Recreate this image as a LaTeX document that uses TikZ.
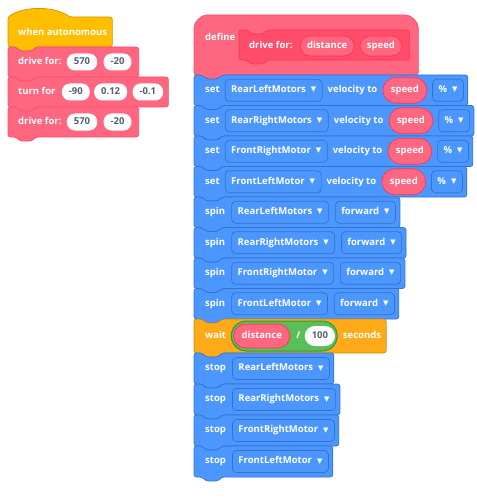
\documentclass[tikz,border=0pt]{standalone}
\usepackage{fontspec}
\setmainfont{Open Sans}
\newfontfamily\symf{DejaVu Sans}
\usetikzlibrary{positioning,calc,fit}
\pgfdeclarelayer{blocks}
\pgfdeclarelayer{inputs}
\pgfsetlayers{blocks,inputs,main}

\definecolor{pinkblock}{HTML}{FF6680}
\definecolor{pinkedge}{HTML}{FF4D6A}
\definecolor{pinkdark}{HTML}{FF3355}
\definecolor{blueblock}{HTML}{4C97FF}
\definecolor{blueedge}{HTML}{3373CC}
\definecolor{hatyellow}{HTML}{FFBF00}
\definecolor{hatedge}{HTML}{CC9900}
\definecolor{waitorange}{HTML}{FFAB19}
\definecolor{waitedge}{HTML}{CF8B17}
\definecolor{opgreen}{HTML}{59C059}
\definecolor{opedge}{HTML}{389438}
\definecolor{slottext}{HTML}{575E75}

\newcommand{\menuarrow}{\hspace{5pt}\raisebox{0.6pt}{\symf\fontsize{7}{7}\selectfont ▼}}

% stack block: style, left, top, bottom, last node, right padding
\newcommand{\cmdbody}[6]{%
  \path[#1] let \p1=(#5.east) in
    (#2,{(#3+#4)/2}) -- (#2,#3) -- ({#2+8},#3) -- ({#2+12},{#3-4}) -- ({#2+24},{#3-4}) -- ({#2+28},#3)
    -- ({\x1+#6},#3) -- ({\x1+#6},#4) -- ({#2+28},#4) -- ({#2+24},{#4-4}) -- ({#2+12},{#4-4})
    -- ({#2+8},#4) -- (#2,#4) -- cycle;}

\begin{document}
\begin{tikzpicture}[x=1pt, y=1pt, node distance=5pt,
lbl/.style={text=white, font=\bfseries\fontsize{9.5}{11}\selectfont, inner sep=0pt, text height=6.8pt, text depth=2.2pt},
slot/.style={lbl, fill=white, text=slottext, rounded corners=8pt, minimum height=17pt, minimum width=26pt, inner xsep=7pt},
arg/.style={lbl, fill=pinkblock, draw=pinkdark, line width=0.7pt, rounded corners=10pt, minimum height=20pt, inner xsep=7pt},
rep/.style={lbl, fill=pinkblock, draw=pinkdark, line width=0.7pt, rounded corners=13pt, minimum height=26pt, inner xsep=8pt},
menu/.style={lbl, fill=blueblock, draw=blueedge, line width=0.7pt, rounded corners=4pt, minimum height=22pt, inner xsep=6pt},
hat block/.style={fill=hatyellow, draw=hatedge, line width=0.7pt, rounded corners=2.5pt},
pink block/.style={fill=pinkblock, draw=pinkedge, line width=0.7pt, rounded corners=2.5pt},
proto block/.style={fill=pinkedge, draw=pinkdark, line width=0.7pt, rounded corners=2.5pt},
blue block/.style={fill=blueblock, draw=blueedge, line width=0.7pt, rounded corners=2.5pt},
wait block/.style={fill=waitorange, draw=waitedge, line width=0.7pt, rounded corners=2.5pt}]
\useasboundingbox (0,0) rectangle (476,-500);

\node[lbl, anchor=west] (auto) at (18,-33) {when autonomous};
\node[lbl, anchor=west] (drive1) at (18,-62) {drive for:};
\node[slot, right=of drive1] (drive1d) {570};
\node[slot, right=6pt of drive1d] (drive1s) {-20};
\node[lbl, anchor=west] (turn) at (18,-92) {turn for};
\node[slot, right=6pt of turn] (turna) {-90};
\node[slot, right=4pt of turna] (turnb) {0.12};
\node[slot, right=5pt of turnb] (turnc) {-0.1};
\node[lbl, anchor=west] (drive2) at (18,-122) {drive for:};
\node[slot, right=of drive2] (drive2d) {570};
\node[slot, right=6pt of drive2d] (drive2s) {-20};

\begin{pgfonlayer}{blocks}
\path[hat block] let \p1=(auto.east) in (8,-32) -- (8,-17) .. controls (24,-6) and (54,-6) .. (70,-17)
  -- ({\x1+5},-17) -- ({\x1+5},-47) -- (36,-47) -- (32,-51) -- (20,-51) -- (16,-47) -- (8,-47) -- cycle;
\cmdbody{pink block}{8}{-47}{-77}{drive1s}{7}
\cmdbody{pink block}{8}{-77}{-107}{turnc}{5}
\cmdbody{pink block}{8}{-107}{-137}{drive2s}{7}
\end{pgfonlayer}

\node[lbl, anchor=west] (define) at (205,-38) {define};
\node[lbl, anchor=west] (proto) at (249,-46) {drive for:};
\node[arg, right=7pt of proto] (pdist) {distance};
\node[arg, right=of pdist] (pspeed) {speed};

\begin{pgfonlayer}{blocks}
\path[pink block] let \p1=(pspeed.east) in (194,-45) -- (194,-30) .. controls (194,-22) and (201,-15) .. (209,-15)
  -- ({\x1+1},-15) .. controls ({\x1+9},-15) and ({\x1+16},-22) .. ({\x1+16},-30)
  -- ({\x1+16},-75) -- (222,-75) -- (218,-79) -- (206,-79) -- (202,-75) -- (194,-75) -- cycle;
\cmdbody{proto block}{239}{-30}{-60}{pspeed}{7}
\end{pgfonlayer}

\foreach \m [count=\i from 0, evaluate=\i as \t using -75-30.5*\i] in {RearLeftMotors,RearRightMotors,FrontRightMotor,FrontLeftMotor}{
  \node[lbl, anchor=west] (set\i) at (205,\t-15.25) {set};
  \node[menu, right=of set\i] (setm\i) {\m\menuarrow};
  \node[lbl, right=of setm\i] (setv\i) {velocity to};
  \node[rep, right=of setv\i] (sets\i) {speed};
  \node[menu, right=of sets\i] (setu\i) {\%\menuarrow};
  \begin{pgfonlayer}{blocks}
  \cmdbody{blue block}{194}{\t}{\t-30.5}{setu\i}{4}
  \end{pgfonlayer}
}

\foreach \m [count=\i from 0, evaluate=\i as \t using -197-30.5*\i] in {RearLeftMotors,RearRightMotors,FrontRightMotor,FrontLeftMotor}{
  \node[lbl, anchor=west] (spin\i) at (205,\t-15.25) {spin};
  \node[menu, right=6pt of spin\i] (spinm\i) {\m\menuarrow};
  \node[menu, right=6pt of spinm\i] (spind\i) {forward\menuarrow};
  \begin{pgfonlayer}{blocks}
  \cmdbody{blue block}{194}{\t}{\t-30.5}{spind\i}{4}
  \end{pgfonlayer}
}

\node[lbl, anchor=west] (wait) at (205,-336) {wait};
\node[rep, minimum height=24pt, rounded corners=12pt, right=7pt of wait] (wdist) {distance};
\node[lbl, right=6pt of wdist] (wslash) {/};
\node[slot, minimum height=20pt, rounded corners=10pt, right=4pt of wslash] (w100) {100};
\begin{pgfonlayer}{inputs}
\node[fill=opgreen, draw=opedge, line width=1pt, rounded corners=15pt, minimum height=30pt, inner xsep=2pt, inner ysep=0pt, fit=(wdist)(w100)] (wop) {};
\end{pgfonlayer}
\node[lbl, right=of wop] (wsec) {seconds};
\begin{pgfonlayer}{blocks}
\cmdbody{wait block}{194}{-319}{-353}{wsec}{5}
\end{pgfonlayer}

\foreach \m [count=\i from 0, evaluate=\i as \t using -353-31*\i] in {RearLeftMotors,RearRightMotors,FrontRightMotor,FrontLeftMotor}{
  \node[lbl, anchor=west] (stop\i) at (205,\t-15.5) {stop};
  \node[menu, right=6pt of stop\i] (stopm\i) {\m\menuarrow};
  \begin{pgfonlayer}{blocks}
  \cmdbody{blue block}{194}{\t}{\t-31}{stopm\i}{4}
  \end{pgfonlayer}
}
\end{tikzpicture}
\end{document}
